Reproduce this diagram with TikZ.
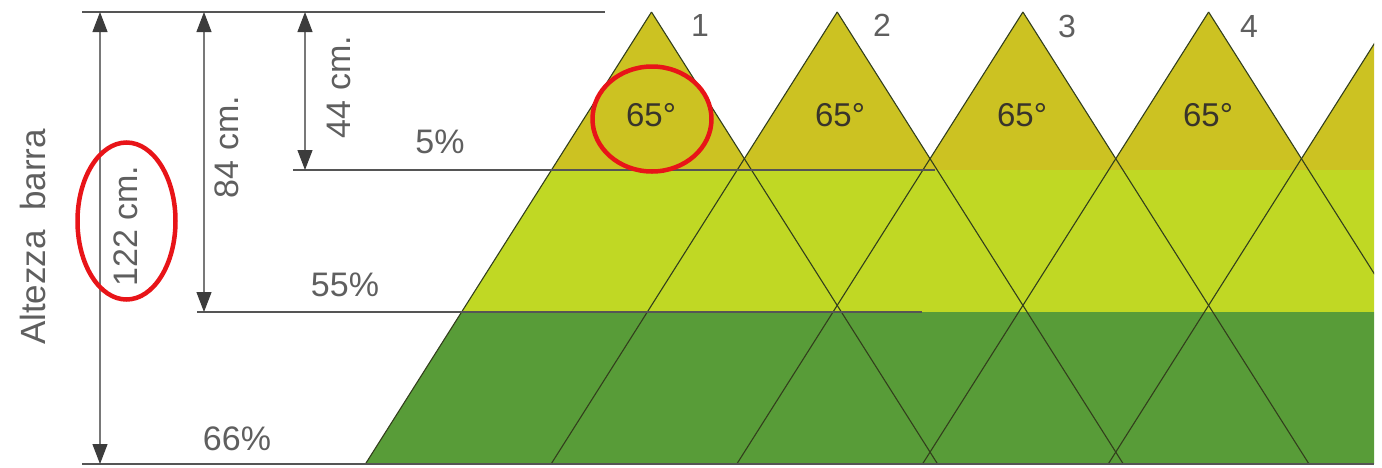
\documentclass[tikz,border=0pt]{standalone}
\usepackage{fontspec}
\setmainfont{Liberation Sans}
\usetikzlibrary{arrows.meta}
\definecolor{gold}{RGB}{204,194,34}
\definecolor{lgreen}{RGB}{192,216,36}
\definecolor{dgreen}{RGB}{88,156,56}
\definecolor{edgec}{RGB}{50,62,28}
\definecolor{txt}{RGB}{95,95,95}
\definecolor{dimc}{RGB}{85,85,85}
\definecolor{shaft}{RGB}{120,120,120}
\definecolor{tipc}{RGB}{60,60,60}
\definecolor{redc}{RGB}{232,20,24}
\tikzset{
  edge/.style={draw=edgec,line width=1.1pt},
  dimline/.style={draw=shaft,line width=1.1pt,
    {Triangle[length=20pt,width=15pt,color=tipc]}-{Triangle[length=20pt,width=15pt,color=tipc]}},
  hline/.style={draw=dimc,line width=1.8pt},
  thline/.style={draw=dimc,line width=1.2pt},
  lbl/.style={text=txt,inner sep=0pt,font=\fontsize{34}{40}\selectfont},
  rlbl/.style={lbl,rotate=90},
  ang/.style={text=black!80!olive,inner sep=0pt,font=\fontsize{33}{40}\selectfont},
  num/.style={lbl,font=\fontsize{32}{38}\selectfont},
  redmark/.style={draw=redc,line width=4.5pt}
}
\begin{document}
\begin{tikzpicture}[x=1pt,y=-1pt]
\useasboundingbox (0,0) rectangle (1382,467);
% coloured field
\begin{scope}
\clip (365.4,464) -- (651.5,12) -- (744.35,158.7) -- (837.2,12) -- (930.05,158.7)
  -- (1022.9,12) -- (1115.75,158.7) -- (1208.6,12) -- (1301.45,158.7)
  -- (1374,44) -- (1374,464) -- cycle;
\fill[gold] (300,0) rectangle (1382,170);
\fill[lgreen] (300,170) rectangle (1382,312);
\fill[dgreen] (300,312) rectangle (1382,464);
\end{scope}
% triangle edges
\begin{scope}
\clip (0,0) rectangle (1374,464);
\foreach \a in {651.5,837.2,1022.9,1208.6,1394.3}{
  \draw[edge] (\a,12) -- ++(-286.1,452);
  \draw[edge] (\a,12) -- ++(286.1,452);
}
\end{scope}
% horizontal lines
\coordinate (t0) at (82,12);   \coordinate (t1) at (605,12);
\coordinate (b0) at (82,464);  \coordinate (b1) at (1374,464);
\coordinate (f0) at (293,170); \coordinate (f1) at (935,170);
\coordinate (m0) at (197,312); \coordinate (m1) at (922,312);
\draw[hline] (t0) -- (t1);
\draw[hline] (b0) -- (b1);
\draw[thline] (f0) -- (f1);
\draw[thline] (m0) -- (m1);
% dimension arrows
\coordinate (d1a) at (100,12);  \coordinate (d1b) at (100,464);
\coordinate (d2a) at (204,12);  \coordinate (d2b) at (204,312);
\coordinate (d3a) at (305,12);  \coordinate (d3b) at (305,170);
\draw[dimline] (d1a) -- (d1b);
\draw[dimline] (d2a) -- (d2b);
\draw[dimline] (d3a) -- (d3b);
% labels
\node[rlbl,font=\fontsize{35}{40}\selectfont] (alt) at (33,237) {Altezza\ \ barra};
\node[rlbl] (l122) at (126,226) {122 cm.};
\node[rlbl] (l84) at (227,147) {84 cm.};
\node[rlbl] (l44) at (339,87) {44 cm.};
\node[lbl] (p5) at (440,142) {5\%};
\node[lbl] (p55) at (345,285) {55\%};
\node[lbl] (p66) at (237,439) {66\%};
\node[num] (n1) at (700,25) {1};
\node[num] (n2) at (882,25) {2};
\node[num] (n3) at (1067,26) {3};
\node[num] (n4) at (1249,26) {4};
\node[ang] (a1) at (651,115) {65°};
\node[ang] (a2) at (840,115) {65°};
\node[ang] (a3) at (1022,115) {65°};
\node[ang] (a4) at (1208,115) {65°};
% red marks
\draw[redmark] (652,119) ellipse [x radius=59.5, y radius=52.5];
\draw[redmark] (126.5,221) ellipse [x radius=49, y radius=78.5];
\end{tikzpicture}
\end{document}
